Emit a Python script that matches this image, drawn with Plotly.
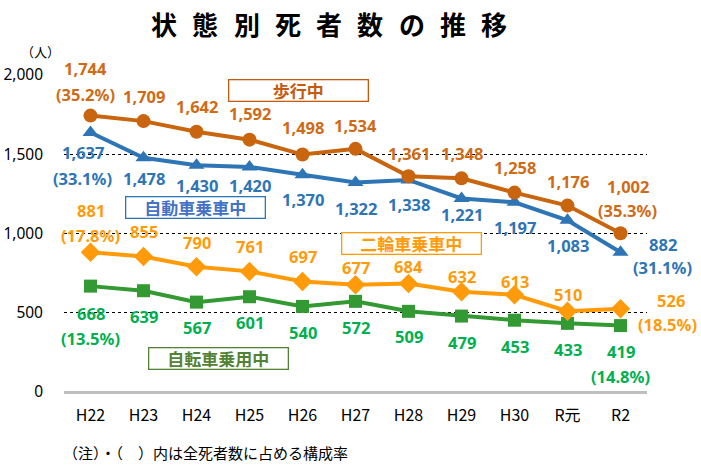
import plotly.graph_objects as go

categories = ["H22", "H23", "H24", "H25", "H26", "H27", "H28", "H29", "H30", "R元", "R2"]
walking = [1744, 1709, 1642, 1592, 1498, 1534, 1361, 1348, 1258, 1176, 1002]
car = [1637, 1478, 1430, 1420, 1370, 1322, 1338, 1221, 1197, 1083, 882]
motorcycle = [881, 855, 790, 761, 697, 677, 684, 632, 613, 510, 526]
bicycle = [668, 639, 567, 601, 540, 572, 509, 479, 453, 433, 419]
pct_first = {"walking": "(35.2%)", "car": "(33.1%)", "motorcycle": "(17.8%)", "bicycle": "(13.5%)"}
pct_last = {"walking": "(35.3%)", "car": "(31.1%)", "motorcycle": "(18.5%)", "bicycle": "(14.8%)"}
series_names = {"walking": "歩行中", "car": "自動車乗車中", "motorcycle": "二輪車乗車中", "bicycle": "自転車乗用中"}
yticks = [0, 500, 1000, 1500, 2000]
title_text = "状態別死者数の推移"
unit_text = "（人）"
note_text = "（注）・（　）内は全死者数に占める構成率"

# layout geometry (pixels)
W, H = 701, 466
ML, MR, MT, MB = 64, 54, 75, 74
PW = W - ML - MR
PH = H - MT - MB


def px(x):
    return (x - ML) / PW


def py(y):
    return (H - MB - y) / PH


NUM_FONT = "Noto Sans, Open Sans, sans-serif"
JP_FONT = "Noto Sans CJK JP, sans-serif"

styles = {
    "walking": dict(line="#C8650E", text="#CF6B16", symbol="circle", size=14),
    "car": dict(line="#2E75B6", text="#2E75B6", symbol="triangle-up", size=14),
    "motorcycle": dict(line="#FF9B0A", text="#FF9B0A", symbol="diamond", size=15),
    "bicycle": dict(line="#339933", text="#00AF50", symbol="square", size=13),
}
data = {"walking": walking, "car": car, "motorcycle": motorcycle, "bicycle": bicycle}

# vertical label offsets (px, positive = up)
yshifts = {
    "walking": [47, 25, 25, 26, 27, 23, 23, 25, 25, 24, 47],
    "car": [-20, -21, -20, -19, -25, -26, -25, -16, -25, -25, 8],
    "motorcycle": [42, 25, 24, 25, 25, 17, 17, 15, 13, 17, 8],
    "bicycle": [-27, -26, -25, -26, -26, -26, -25, -26, -26, -26, -26],
}
xshift_first = {"walking": -5, "car": -8, "motorcycle": 0, "bicycle": 0}
xshift_last = {"walking": 7, "car": 42, "motorcycle": 50, "bicycle": 0}
pct_first_shift = {"walking": 21, "car": -46, "motorcycle": 17, "bicycle": -52}
pct_last_shift = {"walking": 23, "car": -15, "motorcycle": -16, "bicycle": -51}
pct_last_xshift = {"walking": 7, "car": 42, "motorcycle": 47, "bicycle": 0}

fig = go.Figure()
for key in ["bicycle", "motorcycle", "car", "walking"]:
    st = styles[key]
    fig.add_trace(go.Scatter(
        x=categories, y=data[key], mode="lines+markers", name=series_names[key],
        line=dict(color=st["line"], width=4),
        marker=dict(symbol=st["symbol"], size=st["size"], color=st["line"]),
        cliponaxis=False, hoverinfo="skip",
    ))

annotations = []
for key, vals in data.items():
    st = styles[key]
    n = len(vals)
    for i, (c, v) in enumerate(zip(categories, vals)):
        xs = 0
        if i == 0:
            xs = xshift_first[key]
        elif i == n - 1:
            xs = xshift_last[key]
        annotations.append(dict(
            x=c, y=v, xref="x", yref="y", text=f"<b>{v:,}</b>", showarrow=False,
            yshift=yshifts[key][i], xshift=xs,
            font=dict(family=NUM_FONT, size=16.5, color=st["text"]),
        ))
    annotations.append(dict(
        x=categories[0], y=vals[0], xref="x", yref="y", text=f"<b>{pct_first[key]}</b>",
        showarrow=False, yshift=pct_first_shift[key], xshift=xshift_first[key],
        font=dict(family=NUM_FONT, size=16.5, color=st["text"]),
    ))
    annotations.append(dict(
        x=categories[-1], y=vals[-1], xref="x", yref="y", text=f"<b>{pct_last[key]}</b>",
        showarrow=False, yshift=pct_last_shift[key], xshift=pct_last_xshift[key],
        font=dict(family=NUM_FONT, size=16.5, color=st["text"]),
    ))

# series name boxes (center px, color)
boxes = [
    ("walking", 298, 90, "#C55A11", "#C55A11"),
    ("car", 195, 208, "#2E75B6", "#4472C4"),
    ("motorcycle", 411, 243.5, "#FF9B0A", "#FF9B0A"),
    ("bicycle", 218, 358, "#548235", "#548235"),
]
for key, cx, cy, bc, tc in boxes:
    annotations.append(dict(
        x=px(cx), y=py(cy), xref="paper", yref="paper", text=f"<b>{series_names[key]}</b>",
        showarrow=False, width=136, height=18, borderwidth=1.3, borderpad=1,
        bordercolor=bc, bgcolor="white",
        font=dict(family=JP_FONT, size=17, color=tc), xanchor="center", yanchor="middle",
    ))

# title, letter-spaced
n_t = len(title_text)
for i, ch in enumerate(title_text):
    cx = 164 + i * (494 - 164) / (n_t - 1)
    annotations.append(dict(
        x=px(cx), y=py(24), xref="paper", yref="paper", text=f"<b>{ch}</b>", showarrow=False,
        font=dict(family=JP_FONT, size=26, color="black"), xanchor="center", yanchor="middle",
    ))

annotations.append(dict(
    x=px(40), y=py(51), xref="paper", yref="paper", text=unit_text, showarrow=False,
    font=dict(family=JP_FONT, size=13, color="black"), xanchor="center", yanchor="middle",
))
annotations.append(dict(
    x=px(61), y=py(452), xref="paper", yref="paper", text=note_text, showarrow=False,
    font=dict(family=JP_FONT, size=15, color="black"), xanchor="left", yanchor="middle",
))

fig.update_layout(
    width=W, height=H,
    margin=dict(l=ML, r=MR, t=MT, b=MB, pad=0, autoexpand=False),
    paper_bgcolor="white", plot_bgcolor="white",
    showlegend=False, hovermode=False,
    annotations=annotations,
    xaxis=dict(
        type="category", range=[-0.5, len(categories) - 0.5], autorange=False,
        showgrid=False, zeroline=False, showline=False, ticks="", automargin=False,
        tickfont=dict(family=JP_FONT, size=16, color="black"), ticklabelstandoff=12,
    ),
    yaxis=dict(
        range=[0, 2000], autorange=False, tickvals=yticks, tickformat=",", showgrid=True,
        gridcolor="black", griddash="dot", gridwidth=1, automargin=False,
        zeroline=True, zerolinecolor="#BFBFBF", zerolinewidth=3, showline=False,
        tickfont=dict(family=NUM_FONT, size=15.5, color="black"), ticklabelstandoff=20,
    ),
)

fig.write_html(
    "out.html",
    config={"displayModeBar": False, "staticPlot": True},
    post_script="document.body.style.margin='0';document.body.style.padding='0';document.body.style.overflow='hidden';",
)
